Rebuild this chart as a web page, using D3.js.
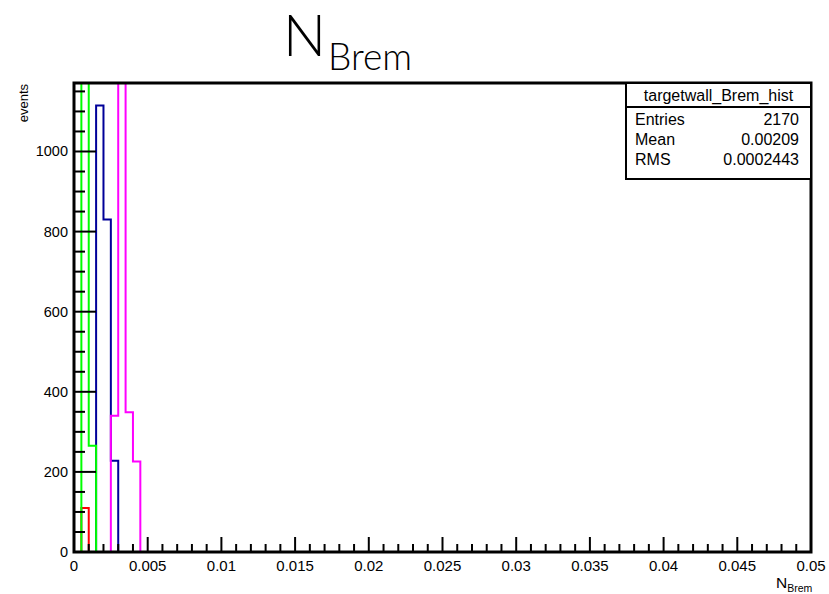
<!DOCTYPE html>
<html>
<head>
<meta charset="utf-8">
<script src="https://cdn.jsdelivr.net/npm/d3@7"></script>
<style>
  body { margin: 0; background: #fff; }
  svg { display: block; font-family: "Liberation Sans", Arial, sans-serif; }
</style>
</head>
<body>
<svg id="chart" width="829" height="594"></svg>
<script>
// histogram: 100 bins from 0 to 0.05, only the leading bins are filled
let nBins = 100
let xMin = 0, xMax = 0.05
let yMax = 1171

// counts of the first bins, all later bins are zero
let blueCounts    = [0, 0, 0, 1115, 830, 228, 0]
let redCounts     = [0, 110, 0]
let magentaCounts = [0, 0, 0, 0, 0, 340, 1520, 349, 226, 0]
let greenCounts   = [0, 1650, 265, 0]

let xTicks = [0, 0.005, 0.01, 0.015, 0.02, 0.025, 0.03, 0.035, 0.04, 0.045, 0.05]
let xTickLabels = ['0', '0.005', '0.01', '0.015', '0.02', '0.025', '0.03', '0.035', '0.04', '0.045', '0.05']
let yTicks = [0, 200, 400, 600, 800, 1000]

let statsLabels = ['Entries', 'Mean', 'RMS']
let statsValues = ['2170', '0.00209', '0.0002443']

let series = [
    { counts: blueCounts,    color: '#000099' },
    { counts: redCounts,     color: '#ff0000' },
    { counts: magentaCounts, color: '#ff00ff' },
    { counts: greenCounts,   color: '#00ff00' }
]

let svg = d3.select('#chart')
let frameL = 74, frameR = 811, frameT = 83, frameB = 552

let x = d3.scaleLinear().domain([xMin, xMax]).range([frameL, frameR])
let y = d3.scaleLinear().domain([0, yMax]).range([frameB, frameT])
let binW = (xMax - xMin) / nBins

/* -------------- TITLE -------------- */

let title = svg.append('text')
    .attr('x', 283).attr('y', 56)
    .style('font-family', 'Lato, "Open Sans", sans-serif')
    .style('font-weight', 300)
    .attr('font-size', 57)
title.append('tspan').text('N')
title.append('tspan').attr('font-size', 37).attr('dy', 14).attr('dx', 2).text('Brem')

/* -------------- HISTOGRAMS -------------- */

svg.append('clipPath').attr('id', 'frame-clip')
    .append('rect')
    .attr('x', frameL).attr('y', frameT)
    .attr('width', frameR - frameL).attr('height', frameB - frameT)

function fullCounts(counts) {
    let all = []
    for (let i = 0; i < nBins; i++) all.push(i < counts.length ? counts[i] : 0)
    return all
}

let line = d3.line()
    .x(function (d) { return x(d[0]) })
    .y(function (d) { return y(d[1]) })

let histG = svg.append('g').attr('clip-path', 'url(#frame-clip)')

series.forEach(function (s) {
    let counts = fullCounts(s.counts)
    let pts = [[xMin, 0]]
    counts.forEach(function (c, i) {
        pts.push([xMin + i * binW, c])
        pts.push([xMin + (i + 1) * binW, c])
    })
    pts.push([xMax, 0])
    histG.append('path')
        .attr('d', line(pts))
        .attr('fill', 'none')
        .attr('stroke', s.color)
        .attr('stroke-width', 2)
})

/* -------------- AXES -------------- */

let axes = svg.append('g').attr('stroke', '#000')

// y axis ticks: major every 200, minor every 50
d3.range(0, yMax, 50).forEach(function (v) {
    let major = v % 200 === 0
    axes.append('line')
        .attr('x1', frameL).attr('x2', frameL + (major ? 22 : 11))
        .attr('y1', y(v)).attr('y2', y(v))
        .attr('stroke-width', 2)
})

// x axis ticks: major every 0.005, minor every 0.001
d3.range(0, 51).forEach(function (k) {
    let v = k * 0.001
    let major = k % 5 === 0
    axes.append('line')
        .attr('x1', x(v)).attr('x2', x(v))
        .attr('y1', frameB).attr('y2', frameB - (major ? 15 : 8))
        .attr('stroke-width', 2)
})

svg.append('rect')
    .attr('x', frameL).attr('y', frameT)
    .attr('width', frameR - frameL).attr('height', frameB - frameT)
    .attr('fill', 'none').attr('stroke', '#000').attr('stroke-width', 3)

svg.selectAll('.ylab')
    .data(yTicks).enter().append('text')
    .attr('class', 'ylab')
    .attr('x', 68).attr('y', function (d) { return y(d) + 5 })
    .attr('text-anchor', 'end')
    .attr('font-size', 14.5)
    .text(function (d) { return d })

svg.selectAll('.xlab')
    .data(xTicks).enter().append('text')
    .attr('class', 'xlab')
    .attr('x', function (d) { return x(d) })
    .attr('y', 571)
    .attr('text-anchor', 'middle')
    .attr('font-size', 15)
    .text(function (d, i) { return xTickLabels[i] })

svg.append('text')
    .attr('transform', 'translate(28,84) rotate(-90)')
    .attr('text-anchor', 'end')
    .attr('font-size', 13)
    .text('events')

let xTitle = svg.append('text')
    .attr('x', 776).attr('y', 588)
    .attr('font-size', 15.5)
xTitle.append('tspan').text('N')
xTitle.append('tspan').attr('font-size', 10.5).attr('dy', 4).text('Brem')

/* -------------- STATS BOX -------------- */

let sx = 626, sy = 83, sw = 185, sh = 96
let stats = svg.append('g')
stats.append('rect')
    .attr('x', sx).attr('y', sy).attr('width', sw).attr('height', sh)
    .attr('fill', '#fff').attr('stroke', '#000').attr('stroke-width', 2)
stats.append('line')
    .attr('x1', sx).attr('x2', sx + sw).attr('y1', 107).attr('y2', 107)
    .attr('stroke', '#000').attr('stroke-width', 2)
stats.append('text')
    .attr('x', sx + sw / 2).attr('y', 101)
    .attr('text-anchor', 'middle').attr('font-size', 16)
    .text('targetwall_Brem_hist')
statsLabels.forEach(function (lab, i) {
    stats.append('text')
        .attr('x', 635).attr('y', 125 + i * 20)
        .attr('font-size', 16)
        .text(lab)
    stats.append('text')
        .attr('x', 799).attr('y', 125 + i * 20)
        .attr('text-anchor', 'end').attr('font-size', 16)
        .text(statsValues[i])
})
</script>
</body>
</html>
